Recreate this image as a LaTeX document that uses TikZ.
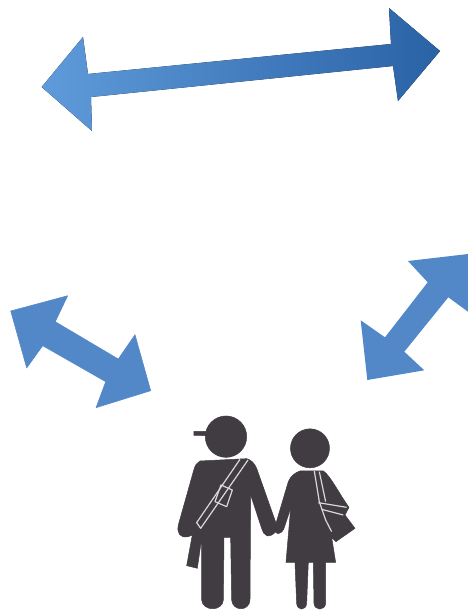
\documentclass[tikz,border=0pt]{standalone}
\definecolor{arrowblue}{HTML}{5388C8}
\definecolor{arrowlight}{HTML}{5F9BDA}
\definecolor{arrowdark}{HTML}{2A62A6}
\definecolor{figuregrey}{HTML}{403C42}
\tikzset{
    sidearrow/.style={fill=arrowblue, draw=arrowblue, line width=0.5pt, line join=round},
    figureshape/.style={fill=figuregrey, draw=figuregrey, line width=0.5pt, line join=round},
    strapline/.style={draw=white!80!figuregrey, line width=1.2pt, line join=round}
}
\begin{document}
\begin{tikzpicture}[x=1pt, y=-1pt]
    \useasboundingbox (0,0) rectangle (468,611);

    % Long arrow (top)
    \fill[left color=arrowlight, right color=arrowdark, shading angle=90, line join=round]
        (41.7,87) -- (83,37) -- (88,74) -- (391,44) -- (389,8) -- (440,51)
        -- (398,101) -- (393,66) -- (91,97) -- (92,131) -- cycle;

    % Left arrow
    \draw[sidearrow] (10.7,311) -- (67.7,295.7) -- (55.3,321.7) -- (118.3,359) -- (135,334.7)
        -- (150.7,390.7) -- (96,407.7) -- (105.7,381.7) -- (42.7,345.7) -- (26.7,368) -- cycle;

    % Right arrow
    \fill[arrowblue] (468,254) -- (408,261) -- (427.7,282.3) -- (385,337.3) -- (360.7,320.3)
        -- (367.3,380) -- (424.3,370.3) -- (404.3,351.7) -- (448.3,297.3) -- (468,311.7) -- cycle;

    \begin{scope}[shift={(160,400)}, x=0.3333pt, y=-0.3333pt]
        % Man (left)
        \fill[figureshape] (198,110) circle (20.7pt);
        \draw[figureshape] (102,94) -- (145,94) -- (145,107) -- (102,106) -- cycle;
        \draw[figureshape] (120,183) -- (260,176) .. controls (275,180) and (283,190) .. (290,205)
            -- (350,375) .. controls (352,395) and (340,408) .. (322,408) .. controls (312,405) and (308,395) .. (305,385)
            -- (272,285) -- (270,600) .. controls (268,635) and (218,635) .. (215,600)
            -- (212,412) -- (192,412) -- (190,600) .. controls (188,635) and (128,635) .. (125,600)
            -- (125,415) -- (112,505) -- (80,497) -- (97,405) -- (85,410) .. controls (60,415) and (50,400) .. (55,375)
            -- (100,215) .. controls (105,195) and (110,188) .. (120,183) -- cycle;
        \draw[strapline] (240,178) -- (110,368) -- (122,385) -- (264,180);
        \draw[strapline] (183,255) -- (217,270) -- (200,320) -- (165,305) -- cycle;

        % Woman (right)
        \fill[figureshape] (450,145) circle (19.5pt);
        \draw[figureshape] (420,213) -- (490,213) .. controls (510,225) and (540,285) .. (567,322)
            -- (555,345) -- (585,385) -- (528,425) -- (515,412) -- (527,487) -- (497,487)
            -- (497,610) .. controls (495,633) and (464,633) .. (462,610) -- (460,487) -- (445,487)
            -- (440,610) .. controls (438,633) and (412,633) .. (410,610) -- (405,487) -- (378,487)
            -- (392,325) -- (372,385) .. controls (365,405) and (340,410) .. (345,380)
            -- (385,245) .. controls (392,228) and (405,218) .. (420,213) -- cycle;
        \draw[strapline] (463,213) -- (478,305) -- (497,360) -- (515,395);
        \draw[strapline] (478,215) -- (497,305);
        \draw[strapline] (475,308) -- (560,322);
        \draw[strapline] (485,328) -- (550,345);
    \end{scope}
\end{tikzpicture}
\end{document}
